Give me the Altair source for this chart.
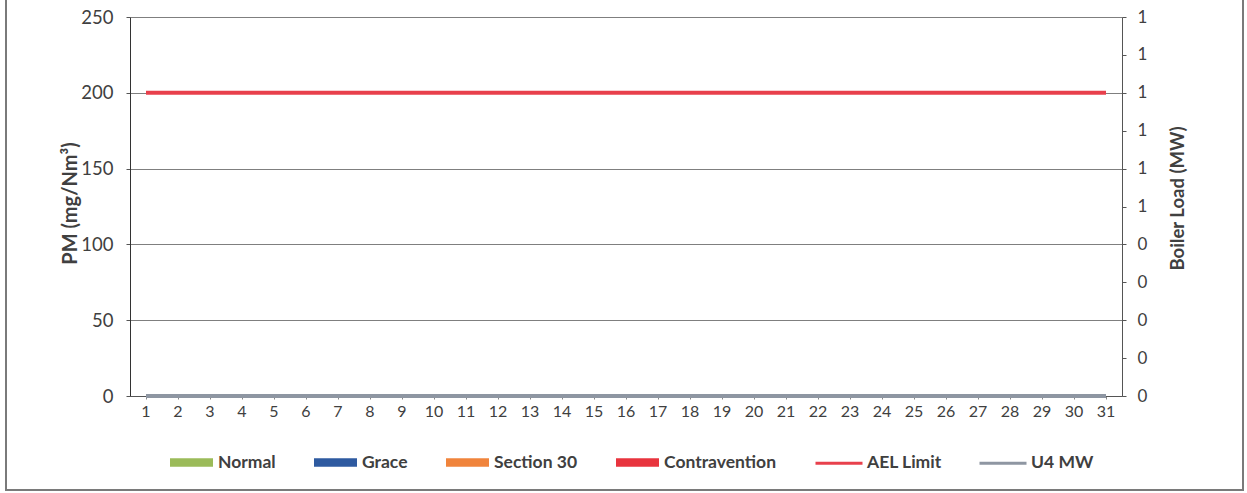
import altair as alt
import pandas as pd

# ---- data ----
days = list(range(1, 32))
categories = ["Normal", "Grace", "Section 30", "Contravention"]
cat_colors = ["#9BBB59", "#2E5AA0", "#F0843C", "#E8343E"]
normal = [0] * 31
grace = [0] * 31
section30 = [0] * 31
contravention = [0] * 31
ael_limit = [200] * 31
u4_mw = [0] * 31
line_series = ["AEL Limit", "U4 MW"]
line_colors = ["#E8404C", "#8E96A2"]
left_ticks = [0, 50, 100, 150, 200, 250]
right_ticks = [0, 0.1, 0.2, 0.3, 0.4, 0.5, 0.6, 0.7, 0.8, 0.9, 1.0]

FONT = "Lato"
TXT = "#404040"

bars_df = pd.DataFrame(
    [{"day": d, "category": c, "value": v}
     for c, vals in zip(categories, [normal, grace, section30, contravention])
     for d, v in zip(days, vals)]
)
ael_df = pd.DataFrame({"day": days, "pm": ael_limit, "series": "AEL Limit"})
u4_df = pd.DataFrame({"day": days, "mw": u4_mw, "series": "U4 MW"})

x_scale = alt.Scale(type="band", paddingInner=0, paddingOuter=0)
x_axis = alt.Axis(title=None, labelAngle=0, labelFont=FONT, labelFontSize=16,
                  labelColor=TXT, tickSize=3, tickColor="#888888",
                  domainColor="#555555", labelPadding=4, grid=False)
left_scale = alt.Scale(domain=[0, 250], nice=False)
right_scale = alt.Scale(domain=[0, 1], nice=False)

bars = alt.Chart(bars_df).mark_bar().encode(
    x=alt.X("day:O", scale=x_scale, axis=x_axis),
    y=alt.Y("sum(value):Q", scale=left_scale,
            axis=alt.Axis(title="PM (mg/Nm³)", values=left_ticks, orient="left",
                          labelFont=FONT, labelFontSize=18.5, labelColor=TXT,
                          labelPadding=13, tickSize=4, tickColor="#555555",
                          domainColor="#333333", gridColor="#7F7F7F", gridWidth=1,
                          titleFont=FONT, titleFontSize=20, titleFontWeight="bold",
                          titleColor=TXT, titleAngle=-90, titleX=-60, titleY=186,
                          titleAlign="center", titleBaseline="middle")),
    fill=alt.Fill("category:N",
                  scale=alt.Scale(domain=categories, range=cat_colors),
                  legend=alt.Legend(title=None, orient="none", direction="horizontal",
                                    legendX=40, legendY=424,
                                    symbolType="M-1,-0.2H1V0.2H-1Z",
                                    symbolSize=1849, symbolStrokeWidth=0,
                                    labelFont=FONT, labelFontSize=17.5,
                                    labelFontWeight="bold", labelColor=TXT,
                                    labelOffset=5, columnPadding=38, padding=0)),
)

ael = alt.Chart(ael_df).mark_line(strokeWidth=4).encode(
    x=alt.X("day:O", scale=x_scale, bandPosition=0.5),
    y=alt.Y("pm:Q", scale=left_scale),
    stroke=alt.Stroke("series:N",
                      scale=alt.Scale(domain=line_series, range=line_colors),
                      legend=alt.Legend(title=None, orient="none", direction="horizontal",
                                        legendX=684, legendY=421,
                                        symbolType="M-1,0H1", symbolSize=2209,
                                        symbolStrokeWidth=3,
                                        labelFont=FONT, labelFontSize=17.5,
                                        labelFontWeight="bold", labelColor=TXT,
                                        labelOffset=3, columnPadding=31, padding=0)),
)

u4 = alt.Chart(u4_df).mark_line(strokeWidth=4).encode(
    x=alt.X("day:O", scale=x_scale, bandPosition=0.5),
    y=alt.Y("mw:Q", scale=right_scale,
            axis=alt.Axis(title="Boiler Load (MW)", orient="right", values=right_ticks,
                          labelExpr="round(datum.value)", grid=False,
                          labelFont=FONT, labelFontSize=17, labelColor=TXT,
                          labelPadding=11, tickSize=4, tickColor="#555555",
                          domainColor="#555555",
                          titleFont=FONT, titleFontSize=18.5, titleFontWeight="bold",
                          titleColor=TXT, titleAngle=-90, titleX=55, titleY=181,
                          titleAlign="center", titleBaseline="middle")),
    stroke=alt.Stroke("series:N",
                      scale=alt.Scale(domain=line_series, range=line_colors)),
)

# outer frame of the scanned chart box (decoration only)
frame = alt.Chart(pd.DataFrame({"k": [0]})).mark_rect(
    filled=False, stroke="#7A7A7A", strokeWidth=2
).encode(x=alt.value(-124), x2=alt.value(1113), y=alt.value(-40), y2=alt.value(473))

left_layer = alt.layer(bars, ael)
chart = alt.layer(left_layer, u4, frame).resolve_scale(y="independent").properties(
    width=992, height=379,
    autosize=alt.AutoSizeParams(type="none"),
    padding={"left": 130, "top": 17, "right": 125, "bottom": 97},
    background="white",
).configure_view(stroke=None)

chart.save("out.html", embed_options={"renderer": "svg", "actions": False})
